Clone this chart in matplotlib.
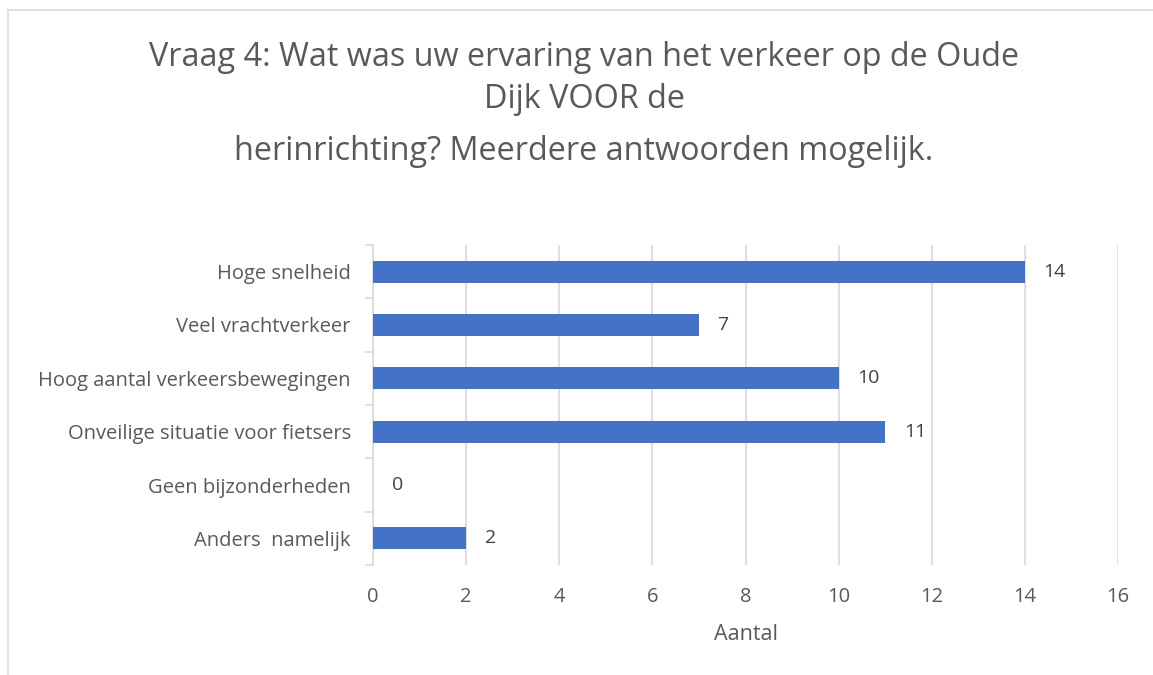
import matplotlib.pyplot as plt
from matplotlib.patches import Rectangle

# Data
categories = ['Hoge snelheid', 'Veel vrachtverkeer', 'Hoog aantal verkeersbewegingen',
              'Onveilige situatie voor fietsers', 'Geen bijzonderheden', 'Anders  namelijk']
counts = [14, 7, 10, 11, 0, 2]
x_ticks = [0, 2, 4, 6, 8, 10, 12, 14, 16]
title_lines = ['Vraag 4: Wat was uw ervaring van het verkeer op de Oude',
               'Dijk VOOR de',
               'herinrichting? Meerdere antwoorden mogelijk.']

plt.rcParams['font.family'] = ['Open Sans', 'DejaVu Sans']

fig = plt.figure(figsize=(11.53, 6.75), dpi=100)
ax = fig.add_axes([373 / 1153, 1 - 565 / 675, (1118 - 373) / 1153, (565 - 245) / 675])

# chart border
fig.patches.append(Rectangle((8 / 1153, -0.1), 1.2, 1 - 10 / 675 + 0.1, transform=fig.transFigure,
                             fill=False, edgecolor='#D9D9D9', linewidth=1.2))

y = list(range(len(categories)))
ax.barh(y, counts, height=0.41, color='#4472C4', zorder=3)
for yi, c in zip(y, counts):
    ax.text(c + 0.4, yi, str(c), va='center', ha='left', fontsize=14, color='#404040')

ax.set_ylim(len(categories) - 0.5, -0.5)
ax.set_xlim(0, 16)
ax.set_xticks(x_ticks)
ax.set_yticks(y)
ax.set_yticklabels(categories)
ax.set_yticks([i - 0.5 for i in range(len(categories) + 1)], minor=True)
ax.tick_params(axis='y', which='major', length=0, pad=16, labelsize=14.5, labelcolor='#595959')
ax.tick_params(axis='y', which='minor', length=6, color='#D9D9D9', width=1.2)
ax.tick_params(axis='x', length=0, pad=16, labelsize=14.5, labelcolor='#595959')
ax.grid(axis='x', color='#D9D9D9', linewidth=1.2, zorder=0)
for s in ['top', 'right', 'bottom']:
    ax.spines[s].set_visible(False)
ax.spines['left'].set_color('#D9D9D9')
ax.spines['left'].set_linewidth(1.2)
ax.set_xlabel('Aantal', fontsize=15.5, color='#595959', labelpad=12)

title_y = [58, 100, 152]
for line, ty in zip(title_lines, title_y):
    fig.text(584 / 1153, 1 - ty / 675, line, ha='center', va='center', fontsize=23.3, color='#595959')

fig.savefig('out.png', dpi=100, facecolor='white')
